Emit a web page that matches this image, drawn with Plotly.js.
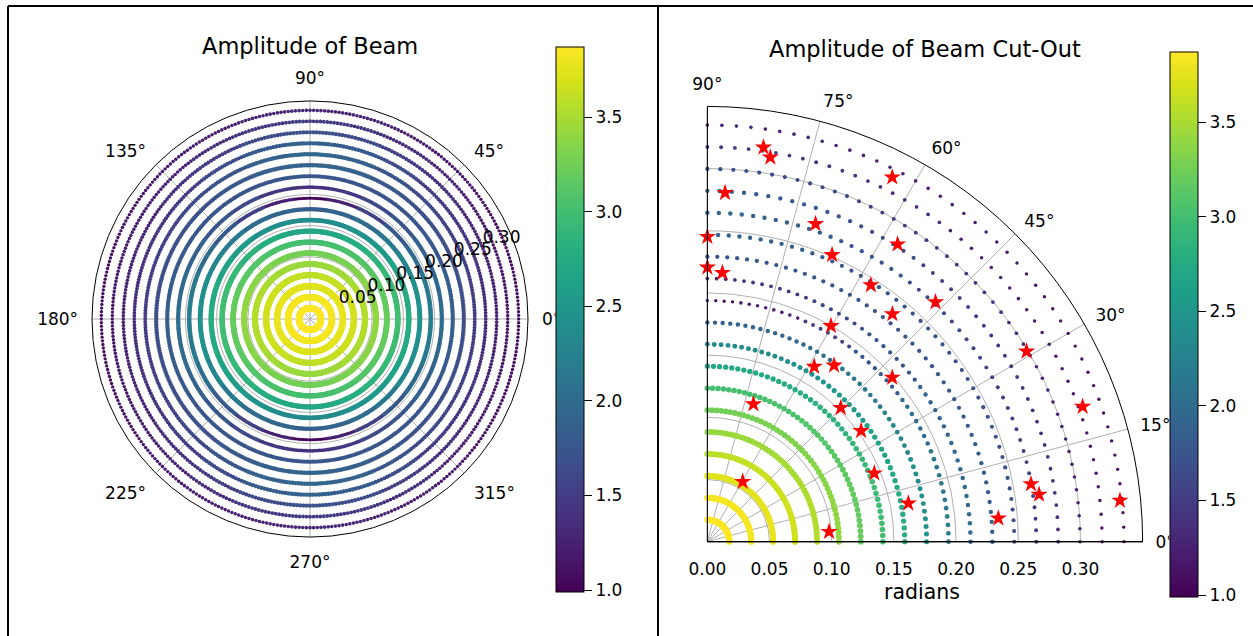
<!DOCTYPE html>
<html>
<head>
<meta charset="utf-8">
<script src="https://cdn.plot.ly/plotly-3.0.1.min.js"></script>
<style>
html,body{margin:0;padding:0;background:#fff;}
#chart{width:1253px;height:636px;}
</style>
</head>
<body>
<div id="chart"></div>
<script>
// ---- data ----
// ring radii (radians), innermost to outermost
const ringRadii = [0.0176,0.0353,0.0529,0.0705,0.0882,0.1058,0.1234,0.1411,0.1587,0.1763,
                   0.1939,0.2116,0.2292,0.2468,0.2645,0.2821,0.2997,0.3174,0.3350];
// amplitude of each ring (inner -> outer) read at these polar angles (pattern is mirror-symmetric)
const ampAngles = [0,15,30,45,60,75,90];
const amp0deg  = [3.87,3.84,3.78,3.68,3.55,3.40,3.20,3.00,2.78,2.45,2.20,2.00,1.85,1.68,1.50,1.35,1.25,1.15,1.08];
const amp15deg = [3.87,3.84,3.78,3.67,3.54,3.39,3.18,2.98,2.75,2.42,2.15,1.96,1.82,1.68,1.52,1.38,1.27,1.17,1.10];
const amp30deg = [3.87,3.84,3.77,3.66,3.52,3.36,3.14,2.92,2.66,2.30,2.00,1.88,1.78,1.68,1.55,1.42,1.30,1.20,1.12];
const amp45deg = [3.87,3.84,3.76,3.64,3.49,3.33,3.10,2.85,2.55,2.15,1.80,1.76,1.75,1.70,1.62,1.50,1.38,1.25,1.16];
const amp60deg = [3.87,3.83,3.74,3.62,3.46,3.29,3.05,2.78,2.45,2.00,1.55,1.62,1.75,1.78,1.75,1.65,1.50,1.35,1.22];
const amp75deg = [3.87,3.83,3.73,3.60,3.44,3.26,3.02,2.72,2.38,1.90,1.25,1.45,1.76,1.86,1.88,1.80,1.65,1.45,1.28];
const amp90deg = [3.86,3.82,3.72,3.58,3.42,3.25,3.00,2.70,2.35,1.85,1.02,1.38,1.78,1.90,1.95,1.88,1.72,1.50,1.30];
// red star samples in the cut-out (radius, angle in degrees)
const starR = [0.3203,0.3132,0.3286,0.2809,0.2699,0.2452,0.2839,0.2515,0.2206,0.2166,
               0.2447,0.2660,0.2359,0.2000,0.2988,0.1649,0.1746,0.1988,0.3207,0.1167,
               0.1520,0.1524,0.1451,0.0560,0.1645,0.2643,0.2694,0.3334,0.2347,0.0982];
const starTheta = [81.9,80.7,63.1,87.1,71.2,90.0,57.4,66.5,90.0,86.8,
                   57.5,46.4,50.9,60.2,30.8,58.6,54.3,41.6,19.8,71.5,
                   45.1,35.8,22.3,59.5,10.8,10.1,8.1,5.7,4.6,4.7];
const colorTicks = [1.0,1.5,2.0,2.5,3.0,3.5];
const radialTicksLeft = [0.05,0.10,0.15,0.20,0.25,0.30];
const radialLabelAngleLeft = 22.5;
const radialTicksRight = [0.00,0.05,0.10,0.15,0.20,0.25,0.30];
const titleLeft = 'Amplitude of Beam';
const titleRight = 'Amplitude of Beam Cut-Out';
const radialLabel = 'radians';

// ---- build traces ----
const ampCols = [amp0deg,amp15deg,amp30deg,amp45deg,amp60deg,amp75deg,amp90deg];
function ampAt(k, deg){
  let t = ((deg % 360) + 360) % 360;
  let phi = t <= 90 ? t : (t <= 180 ? 180 - t : (t <= 270 ? t - 180 : 360 - t));
  let idx = Math.round(phi / 15);
  return ampCols[idx][k];
}
function buildRings(stepDeg, fromDeg, toDeg){
  const r = [], th = [], c = [];
  for (let k = 0; k < ringRadii.length; k++){
    for (let t = fromDeg; t <= toDeg + 1e-9; t += stepDeg){
      if (toDeg === 360 && t >= 360) break;
      r.push(ringRadii[k]); th.push(t); c.push(ampAt(k, t));
    }
  }
  return {r, th, c};
}
const full = buildRings(1, 0, 360);
const cut = buildRings(2, 0, 90);

const CMIN = 0.99, CMAX = 3.87;
const FONT = 'DejaVu Sans';
function cbar(x, yc){
  return {x: x, xanchor:'left', y: yc, yanchor:'middle', len: 545/636, lenmode:'fraction',
    thickness: 28, thicknessmode:'pixels', outlinecolor:'#000', outlinewidth:1,
    tickvals: colorTicks, tickformat:'.1f', ticks:'outside', ticklen:8, tickcolor:'#000',
    tickfont:{family:FONT, size:17, color:'#000'}, xpad:0, ypad:0, bgcolor:'#fff'};
}
const sizeOf = a => 3.2 * Math.sqrt(a);

const traces = [
  {type:'scatterpolar', subplot:'polar', mode:'markers', r: full.r, theta: full.th,
   hoverinfo:'skip',
   marker:{color: full.c, colorscale:'Viridis', cmin:CMIN, cmax:CMAX, size: full.c.map(sizeOf),
           opacity:1, line:{width:0}, colorbar: cbar(556/1253, 1 - 319.5/636)}},
  {type:'scatterpolar', subplot:'polar', mode:'text', r: radialTicksLeft,
   theta: radialTicksLeft.map(() => radialLabelAngleLeft),
   text: radialTicksLeft.map(v => v.toFixed(2)), textposition:'top right', cliponaxis:false,
   hoverinfo:'skip', textfont:{family:FONT, size:17, color:'#000'}},
  {type:'scatterpolar', subplot:'polar2', mode:'markers', r: cut.r, theta: cut.th,
   hoverinfo:'skip',
   marker:{color: cut.c, colorscale:'Viridis', cmin:CMIN, cmax:CMAX, size: cut.c.map(sizeOf),
           opacity:1, line:{width:0}, colorbar: cbar(1170/1253, 1 - 324.5/636)}},
  {type:'scatterpolar', subplot:'polar2', mode:'markers', r: starR, theta: starTheta,
   hoverinfo:'skip', marker:{symbol:'star', color:'red', size:13, opacity:1, line:{width:0}}},
  {type:'scatterpolar', subplot:'polar2', mode:'lines', r:[0, 0.35], theta:[90, 90],
   hoverinfo:'skip', cliponaxis:false, line:{color:'#000', width:1.3}}
];

const gridC = '#b0b0b0';
const tickF = {family:FONT, size:17, color:'#000'};
const layout = {
  width:1253, height:636, margin:{l:0,r:0,t:0,b:0},
  paper_bgcolor:'#fff', showlegend:false,
  font:{family:FONT, size:17, color:'#000'},
  polar:{
    domain:{x:[92/1253, 528/1253], y:[99/636, 535/636]},
    bgcolor:'#fff',
    radialaxis:{range:[0,0.35], tickvals: radialTicksLeft, angle:radialLabelAngleLeft,
      showticklabels:false, showline:false, ticks:'', gridcolor:gridC, gridwidth:1,
      layer:'above traces'},
    angularaxis:{dtick:45, direction:'counterclockwise', rotation:0, showline:true,
      linecolor:'#000', linewidth:1, gridcolor:gridC, gridwidth:1, ticks:'outside', ticklen:10,
      tickcolor:'rgba(0,0,0,0)', tickfont:tickF, layer:'above traces'}
  },
  polar2:{
    domain:{x:[707.3/1253, 1142.7/1253], y:[94.3/636, 529.6/636]},
    sector:[0,90], bgcolor:'#fff',
    radialaxis:{range:[0,0.35], tickvals: radialTicksRight, tickformat:'.2f', angle:0,
      side:'clockwise', showline:true, linecolor:'#000', linewidth:1.3, ticks:'outside', ticklen:12,
      tickcolor:'rgba(0,0,0,0)', gridcolor:gridC, gridwidth:1, tickfont:tickF, layer:'above traces'},
    angularaxis:{dtick:15, direction:'counterclockwise', rotation:0, showline:true,
      linecolor:'#000', linewidth:1, gridcolor:gridC, gridwidth:1, ticks:'outside', ticklen:9,
      tickcolor:'rgba(0,0,0,0)', tickfont:tickF, layer:'above traces'}
  },
  annotations:[
    {text:titleLeft, xref:'paper', yref:'paper', x:310/1253, y:1-46/636, xanchor:'center', yanchor:'middle',
     showarrow:false, font:{family:FONT, size:22.5, color:'#000'}},
    {text:titleRight, xref:'paper', yref:'paper', x:924.5/1253, y:1-49/636, xanchor:'center', yanchor:'middle',
     showarrow:false, font:{family:FONT, size:22.5, color:'#000'}},
    {text:radialLabel, xref:'paper', yref:'paper', x:922/1253, y:1-592/636, xanchor:'center', yanchor:'middle',
     showarrow:false, font:{family:FONT, size:20.5, color:'#000'}}
  ],
  shapes:[
    {type:'line', xref:'paper', yref:'paper', x0:8/1253, x1:1, y0:1-6/636, y1:1-6/636, line:{color:'#000', width:2}},
    {type:'line', xref:'paper', yref:'paper', x0:8/1253, x1:8/1253, y0:0, y1:1-6/636, line:{color:'#000', width:2}},
    {type:'line', xref:'paper', yref:'paper', x0:658/1253, x1:658/1253, y0:0, y1:1-6/636, line:{color:'#000', width:2}}
  ]
};
Plotly.newPlot('chart', traces, layout, {staticPlot:true, displayModeBar:false});
</script>
</body>
</html>
